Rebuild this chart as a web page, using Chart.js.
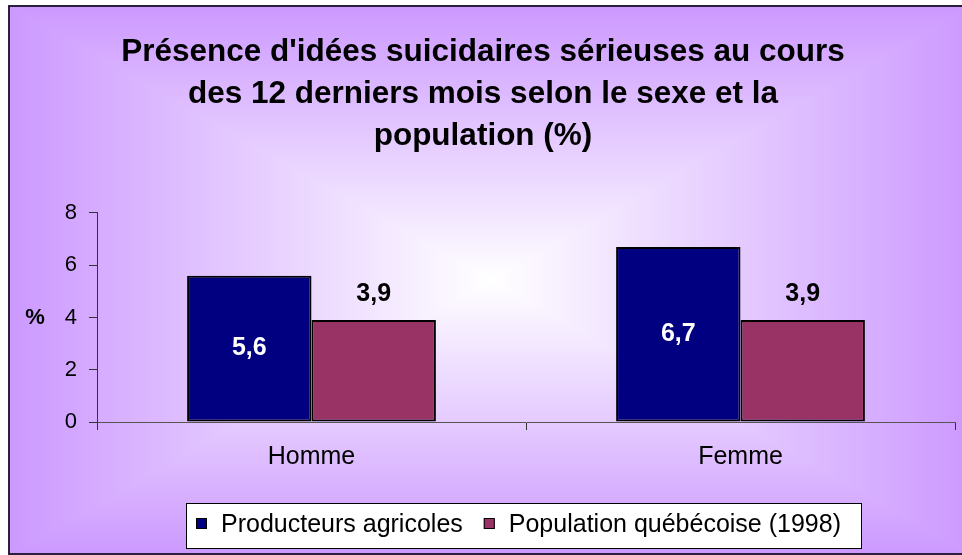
<!DOCTYPE html>
<html>
<head>
<meta charset="utf-8">
<script src="https://cdn.jsdelivr.net/npm/chart.js@4/dist/chart.umd.min.js"></script>
<style>
  html, body { margin: 0; padding: 0; background: #fff; }
  #zone { width: 962px; height: 555px; }
</style>
</head>
<body>
<div id="zone"><canvas id="graphique" width="962" height="555"></canvas></div>
<script>
// Données
const categories = ["Homme", "Femme"];
const producteurs = [5.6, 6.7];
const populationQc = [3.9, 3.9];
const nomsSeries = ["Producteurs agricoles", "Population québécoise (1998)"];
const titreLignes = [
  "Présence d'idées suicidaires sérieuses au cours",
  "des 12 derniers mois selon le sexe et la",
  "population (%)"
];
const yMin = 0, yMax = 8, yPas = 2;

const couleurs = ["#000080", "#993366"];
const police = "Arial, 'Liberation Sans', sans-serif";

const virgule = v => v.toString().replace(".", ",");

// fond : dégradé rectangulaire, blanc au centre, lavande vers les bords (calculé une fois)
let fondImage = null;
function construireFond(w, h) {
  const L = 9, T = 6, R = 971, B = 554, cx = 490, cy = 280;
  const c = document.createElement("canvas");
  c.width = w; c.height = h;
  const cctx = c.getContext("2d");
  const img = cctx.createImageData(w, h);
  const hw = cx - L, hh = cy - T;
  for (let py = 0; py < h; py++) {
    for (let px = 0; px < w; px++) {
      const k = (py * w + px) * 4;
      let r = 255, g = 255, b = 255;
      if (px >= L && py >= T && py <= B) {
        const t = Math.min(1, Math.max(Math.abs(px - cx) / hw, Math.abs(py - cy) / hh));
        r = 255 - 51 * t;
        g = 255 - 102 * t;
      }
      img.data[k] = r; img.data[k + 1] = g; img.data[k + 2] = b; img.data[k + 3] = 255;
    }
  }
  cctx.putImageData(img, 0, 0);
  cctx.strokeStyle = "#2b1f3a";
  cctx.lineWidth = 2;
  cctx.strokeRect(L, T, R - L, B - T);
  return c;
}

const fondPlugin = {
  id: "fond",
  beforeDraw(chart) {
    if (!fondImage) fondImage = construireFond(chart.width, chart.height);
    chart.ctx.drawImage(fondImage, 0, 0);
  },
  afterDraw(chart) {
    const ctx = chart.ctx;
    const y = chart.scales.y;
    ctx.save();
    // titre de l'axe Y, horizontal
    ctx.fillStyle = "#000";
    ctx.font = "bold 22px " + police;
    ctx.textAlign = "center";
    ctx.textBaseline = "middle";
    ctx.fillText("%", 35, y.getPixelForValue(4));

    // légende encadrée
    ctx.fillStyle = "#fff";
    ctx.fillRect(186, 503, 675, 45);
    ctx.strokeStyle = "#000";
    ctx.lineWidth = 1;
    ctx.strokeRect(186.5, 503.5, 675, 45);
    ctx.font = "25px " + police;
    ctx.textAlign = "left";
    let x = 196;
    chart.data.datasets.forEach(ds => {
      ctx.fillStyle = ds.backgroundColor;
      ctx.fillRect(x, 518, 11, 11);
      ctx.strokeStyle = "#000";
      ctx.strokeRect(x + 0.5, 518.5, 10, 10);
      x += 25;
      ctx.fillStyle = "#000";
      ctx.fillText(ds.label, x, 525);
      x += ctx.measureText(ds.label).width + 21;
    });
    ctx.restore();
  }
};

// étiquettes de valeurs : blanches dans la barre bleue, noires au-dessus de la barre mauve
const etiquettesPlugin = {
  id: "etiquettes",
  afterDatasetsDraw(chart) {
    const ctx = chart.ctx;
    ctx.save();
    ctx.font = "bold 25px " + police;
    ctx.textAlign = "center";
    ctx.textBaseline = "middle";
    chart.data.datasets.forEach((ds, i) => {
      chart.getDatasetMeta(i).data.forEach((bar, j) => {
        const texte = virgule(ds.data[j]);
        if (i === 0) {
          ctx.fillStyle = "#fff";
          ctx.fillText(texte, bar.x, (bar.y + bar.base) / 2);
        } else {
          ctx.fillStyle = "#000";
          ctx.fillText(texte, bar.x, bar.y - 26);
        }
      });
    });
    ctx.restore();
  }
};

new Chart(document.getElementById("graphique"), {
  type: "bar",
  data: {
    labels: categories,
    datasets: [{
      label: nomsSeries[0],
      data: producteurs,
      backgroundColor: couleurs[0],
      borderColor: "#000",
      borderWidth: 2,
      borderSkipped: false
    }, {
      label: nomsSeries[1],
      data: populationQc,
      backgroundColor: couleurs[1],
      borderColor: "#000",
      borderWidth: 2,
      borderSkipped: false
    }]
  },
  options: {
    responsive: false,
    animation: false,
    datasets: {
      bar: { categoryPercentage: 0.58, barPercentage: 1 }
    },
    layout: {
      padding: { left: 11, right: 7, bottom: 71 }
    },
    scales: {
      x: {
        ticks: { color: "#000", font: { size: 25, family: police }, padding: 12 },
        grid: { offset: true, drawOnChartArea: false, tickLength: 8, color: "#333" },
        border: { color: "#555" }
      },
      y: {
        min: yMin,
        max: yMax,
        afterFit: s => { s.width = 86; },
        ticks: { stepSize: yPas, color: "#000", font: { size: 22, family: police }, padding: 12 },
        grid: { drawOnChartArea: false, tickLength: 8, color: "#333" },
        border: { color: "#333" }
      }
    },
    plugins: {
      legend: { display: false },
      tooltip: { enabled: false },
      title: {
        display: true,
        text: titreLignes,
        color: "#000",
        font: { size: 31.5, weight: "bold", family: police, lineHeight: 1.3333 },
        padding: { top: 31, bottom: 56 }
      }
    }
  },
  plugins: [fondPlugin, etiquettesPlugin]
});
</script>
</body>
</html>
